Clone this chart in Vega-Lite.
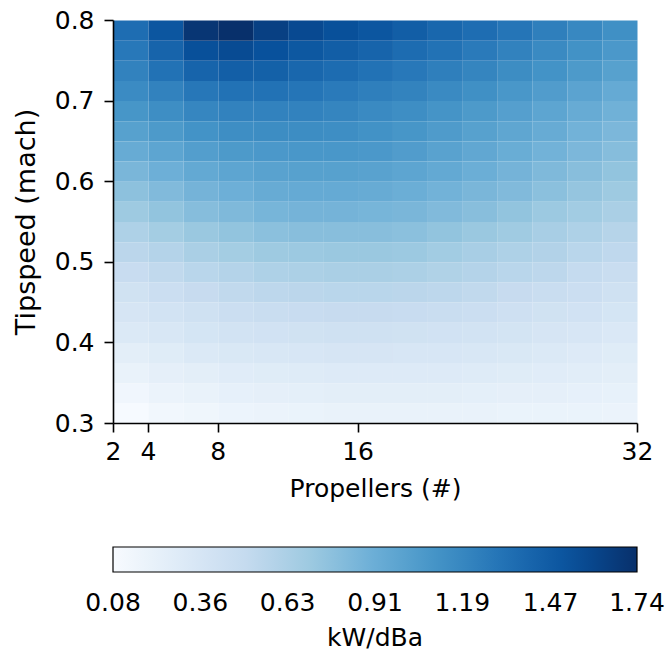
{
  "$schema": "https://vega.github.io/schema/vega-lite/v6.json",
  "width": 524,
  "height": 403,
  "autosize": {"type": "none"},
  "padding": {"left": 113, "top": 20, "right": 31, "bottom": 229},
  "background": "white",
  "config": {
    "view": {"stroke": null},
    "font": "DejaVu Sans",
    "axis": {
      "grid": false,
      "domainColor": "black",
      "domainWidth": 1.6,
      "tickColor": "black",
      "tickWidth": 1.6,
      "tickSize": 9,
      "labelColor": "black",
      "titleColor": "black",
      "labelFontSize": 25,
      "titleFontSize": 25,
      "titleFontWeight": "normal",
      "labelFlush": false
    }
  },
  "data": {"values": [
    {"p":2,"t":0.3,"v":0.09},{"p":4,"t":0.3,"v":0.13},{"p":6,"t":0.3,"v":0.15},{"p":8,"t":0.3,"v":0.17},{"p":10,"t":0.3,"v":0.18},{"p":12,"t":0.3,"v":0.19},{"p":14,"t":0.3,"v":0.20},{"p":16,"t":0.3,"v":0.20},{"p":18,"t":0.3,"v":0.20},{"p":20,"t":0.3,"v":0.20},{"p":22,"t":0.3,"v":0.20},{"p":24,"t":0.3,"v":0.19},{"p":26,"t":0.3,"v":0.19},{"p":28,"t":0.3,"v":0.19},{"p":30,"t":0.3,"v":0.18},
    {"p":2,"t":0.325,"v":0.14},{"p":4,"t":0.325,"v":0.18},{"p":6,"t":0.325,"v":0.20},{"p":8,"t":0.325,"v":0.22},{"p":10,"t":0.325,"v":0.23},{"p":12,"t":0.325,"v":0.24},{"p":14,"t":0.325,"v":0.25},{"p":16,"t":0.325,"v":0.25},{"p":18,"t":0.325,"v":0.25},{"p":20,"t":0.325,"v":0.25},{"p":22,"t":0.325,"v":0.24},{"p":24,"t":0.325,"v":0.23},{"p":26,"t":0.325,"v":0.23},{"p":28,"t":0.325,"v":0.22},{"p":30,"t":0.325,"v":0.21},
    {"p":2,"t":0.35,"v":0.20},{"p":4,"t":0.35,"v":0.23},{"p":6,"t":0.35,"v":0.25},{"p":8,"t":0.35,"v":0.27},{"p":10,"t":0.35,"v":0.28},{"p":12,"t":0.35,"v":0.29},{"p":14,"t":0.35,"v":0.30},{"p":16,"t":0.35,"v":0.30},{"p":18,"t":0.35,"v":0.30},{"p":20,"t":0.35,"v":0.30},{"p":22,"t":0.35,"v":0.29},{"p":24,"t":0.35,"v":0.28},{"p":26,"t":0.35,"v":0.27},{"p":28,"t":0.35,"v":0.26},{"p":30,"t":0.35,"v":0.25},
    {"p":2,"t":0.375,"v":0.25},{"p":4,"t":0.375,"v":0.28},{"p":6,"t":0.375,"v":0.31},{"p":8,"t":0.375,"v":0.33},{"p":10,"t":0.375,"v":0.34},{"p":12,"t":0.375,"v":0.35},{"p":14,"t":0.375,"v":0.36},{"p":16,"t":0.375,"v":0.36},{"p":18,"t":0.375,"v":0.35},{"p":20,"t":0.375,"v":0.35},{"p":22,"t":0.375,"v":0.34},{"p":24,"t":0.375,"v":0.33},{"p":26,"t":0.375,"v":0.31},{"p":28,"t":0.375,"v":0.30},{"p":30,"t":0.375,"v":0.28},
    {"p":2,"t":0.4,"v":0.31},{"p":4,"t":0.4,"v":0.34},{"p":6,"t":0.4,"v":0.37},{"p":8,"t":0.4,"v":0.39},{"p":10,"t":0.4,"v":0.40},{"p":12,"t":0.4,"v":0.41},{"p":14,"t":0.4,"v":0.42},{"p":16,"t":0.4,"v":0.42},{"p":18,"t":0.4,"v":0.41},{"p":20,"t":0.4,"v":0.40},{"p":22,"t":0.4,"v":0.39},{"p":24,"t":0.4,"v":0.38},{"p":26,"t":0.4,"v":0.36},{"p":28,"t":0.4,"v":0.35},{"p":30,"t":0.4,"v":0.32},
    {"p":2,"t":0.425,"v":0.36},{"p":4,"t":0.425,"v":0.39},{"p":6,"t":0.425,"v":0.42},{"p":8,"t":0.425,"v":0.45},{"p":10,"t":0.425,"v":0.47},{"p":12,"t":0.425,"v":0.48},{"p":14,"t":0.425,"v":0.49},{"p":16,"t":0.425,"v":0.49},{"p":18,"t":0.425,"v":0.48},{"p":20,"t":0.425,"v":0.47},{"p":22,"t":0.425,"v":0.45},{"p":24,"t":0.425,"v":0.43},{"p":26,"t":0.425,"v":0.41},{"p":28,"t":0.425,"v":0.40},{"p":30,"t":0.425,"v":0.37},
    {"p":2,"t":0.45,"v":0.41},{"p":4,"t":0.45,"v":0.45},{"p":6,"t":0.45,"v":0.49},{"p":8,"t":0.45,"v":0.52},{"p":10,"t":0.45,"v":0.54},{"p":12,"t":0.45,"v":0.55},{"p":14,"t":0.45,"v":0.56},{"p":16,"t":0.45,"v":0.56},{"p":18,"t":0.45,"v":0.55},{"p":20,"t":0.45,"v":0.54},{"p":22,"t":0.45,"v":0.52},{"p":24,"t":0.45,"v":0.49},{"p":26,"t":0.45,"v":0.47},{"p":28,"t":0.45,"v":0.45},{"p":30,"t":0.45,"v":0.42},
    {"p":2,"t":0.475,"v":0.48},{"p":4,"t":0.475,"v":0.52},{"p":6,"t":0.475,"v":0.56},{"p":8,"t":0.475,"v":0.59},{"p":10,"t":0.475,"v":0.62},{"p":12,"t":0.475,"v":0.63},{"p":14,"t":0.475,"v":0.64},{"p":16,"t":0.475,"v":0.64},{"p":18,"t":0.475,"v":0.63},{"p":20,"t":0.475,"v":0.61},{"p":22,"t":0.475,"v":0.59},{"p":24,"t":0.475,"v":0.56},{"p":26,"t":0.475,"v":0.54},{"p":28,"t":0.475,"v":0.50},{"p":30,"t":0.475,"v":0.47},
    {"p":2,"t":0.5,"v":0.55},{"p":4,"t":0.5,"v":0.59},{"p":6,"t":0.5,"v":0.64},{"p":8,"t":0.5,"v":0.67},{"p":10,"t":0.5,"v":0.70},{"p":12,"t":0.5,"v":0.71},{"p":14,"t":0.5,"v":0.72},{"p":16,"t":0.5,"v":0.72},{"p":18,"t":0.5,"v":0.71},{"p":20,"t":0.5,"v":0.68},{"p":22,"t":0.5,"v":0.65},{"p":24,"t":0.5,"v":0.62},{"p":26,"t":0.5,"v":0.60},{"p":28,"t":0.5,"v":0.56},{"p":30,"t":0.5,"v":0.53},
    {"p":2,"t":0.525,"v":0.62},{"p":4,"t":0.525,"v":0.67},{"p":6,"t":0.525,"v":0.72},{"p":8,"t":0.525,"v":0.75},{"p":10,"t":0.525,"v":0.78},{"p":12,"t":0.525,"v":0.79},{"p":14,"t":0.525,"v":0.79},{"p":16,"t":0.525,"v":0.79},{"p":18,"t":0.525,"v":0.78},{"p":20,"t":0.525,"v":0.75},{"p":22,"t":0.525,"v":0.72},{"p":24,"t":0.525,"v":0.69},{"p":26,"t":0.525,"v":0.65},{"p":28,"t":0.525,"v":0.62},{"p":30,"t":0.525,"v":0.58},
    {"p":2,"t":0.55,"v":0.70},{"p":4,"t":0.55,"v":0.75},{"p":6,"t":0.55,"v":0.80},{"p":8,"t":0.55,"v":0.83},{"p":10,"t":0.55,"v":0.86},{"p":12,"t":0.55,"v":0.87},{"p":14,"t":0.55,"v":0.87},{"p":16,"t":0.55,"v":0.86},{"p":18,"t":0.55,"v":0.85},{"p":20,"t":0.55,"v":0.82},{"p":22,"t":0.55,"v":0.79},{"p":24,"t":0.55,"v":0.75},{"p":26,"t":0.55,"v":0.71},{"p":28,"t":0.55,"v":0.68},{"p":30,"t":0.55,"v":0.64},
    {"p":2,"t":0.575,"v":0.77},{"p":4,"t":0.575,"v":0.82},{"p":6,"t":0.575,"v":0.87},{"p":8,"t":0.575,"v":0.90},{"p":10,"t":0.575,"v":0.93},{"p":12,"t":0.575,"v":0.94},{"p":14,"t":0.575,"v":0.94},{"p":16,"t":0.575,"v":0.93},{"p":18,"t":0.575,"v":0.91},{"p":20,"t":0.575,"v":0.88},{"p":22,"t":0.575,"v":0.85},{"p":24,"t":0.575,"v":0.82},{"p":26,"t":0.575,"v":0.78},{"p":28,"t":0.575,"v":0.74},{"p":30,"t":0.575,"v":0.70},
    {"p":2,"t":0.6,"v":0.85},{"p":4,"t":0.6,"v":0.90},{"p":6,"t":0.6,"v":0.95},{"p":8,"t":0.6,"v":0.98},{"p":10,"t":0.6,"v":1.00},{"p":12,"t":0.6,"v":1.01},{"p":14,"t":0.6,"v":1.01},{"p":16,"t":0.6,"v":1.00},{"p":18,"t":0.6,"v":0.98},{"p":20,"t":0.6,"v":0.95},{"p":22,"t":0.6,"v":0.91},{"p":24,"t":0.6,"v":0.87},{"p":26,"t":0.6,"v":0.83},{"p":28,"t":0.6,"v":0.79},{"p":30,"t":0.6,"v":0.75},
    {"p":2,"t":0.625,"v":0.93},{"p":4,"t":0.625,"v":0.98},{"p":6,"t":0.625,"v":1.03},{"p":8,"t":0.625,"v":1.06},{"p":10,"t":0.625,"v":1.07},{"p":12,"t":0.625,"v":1.08},{"p":14,"t":0.625,"v":1.08},{"p":16,"t":0.625,"v":1.07},{"p":18,"t":0.625,"v":1.04},{"p":20,"t":0.625,"v":1.00},{"p":22,"t":0.625,"v":0.96},{"p":24,"t":0.625,"v":0.92},{"p":26,"t":0.625,"v":0.88},{"p":28,"t":0.625,"v":0.84},{"p":30,"t":0.625,"v":0.80},
    {"p":2,"t":0.65,"v":1.01},{"p":4,"t":0.65,"v":1.06},{"p":6,"t":0.65,"v":1.11},{"p":8,"t":0.65,"v":1.14},{"p":10,"t":0.65,"v":1.15},{"p":12,"t":0.65,"v":1.15},{"p":14,"t":0.65,"v":1.14},{"p":16,"t":0.65,"v":1.12},{"p":18,"t":0.65,"v":1.09},{"p":20,"t":0.65,"v":1.05},{"p":22,"t":0.65,"v":1.01},{"p":24,"t":0.65,"v":0.97},{"p":26,"t":0.65,"v":0.93},{"p":28,"t":0.65,"v":0.88},{"p":30,"t":0.65,"v":0.84},
    {"p":2,"t":0.675,"v":1.09},{"p":4,"t":0.675,"v":1.14},{"p":6,"t":0.675,"v":1.19},{"p":8,"t":0.675,"v":1.22},{"p":10,"t":0.675,"v":1.22},{"p":12,"t":0.675,"v":1.22},{"p":14,"t":0.675,"v":1.20},{"p":16,"t":0.675,"v":1.17},{"p":18,"t":0.675,"v":1.14},{"p":20,"t":0.675,"v":1.10},{"p":22,"t":0.675,"v":1.06},{"p":24,"t":0.675,"v":1.02},{"p":26,"t":0.675,"v":0.98},{"p":28,"t":0.675,"v":0.93},{"p":30,"t":0.675,"v":0.89},
    {"p":2,"t":0.7,"v":1.16},{"p":4,"t":0.7,"v":1.22},{"p":6,"t":0.7,"v":1.29},{"p":8,"t":0.7,"v":1.32},{"p":10,"t":0.7,"v":1.32},{"p":12,"t":0.7,"v":1.30},{"p":14,"t":0.7,"v":1.27},{"p":16,"t":0.7,"v":1.24},{"p":18,"t":0.7,"v":1.21},{"p":20,"t":0.7,"v":1.17},{"p":22,"t":0.7,"v":1.13},{"p":24,"t":0.7,"v":1.08},{"p":26,"t":0.7,"v":1.04},{"p":28,"t":0.7,"v":0.99},{"p":30,"t":0.7,"v":0.94},
    {"p":2,"t":0.725,"v":1.22},{"p":4,"t":0.725,"v":1.32},{"p":6,"t":0.725,"v":1.41},{"p":8,"t":0.725,"v":1.44},{"p":10,"t":0.725,"v":1.43},{"p":12,"t":0.725,"v":1.39},{"p":14,"t":0.725,"v":1.36},{"p":16,"t":0.725,"v":1.32},{"p":18,"t":0.725,"v":1.28},{"p":20,"t":0.725,"v":1.24},{"p":22,"t":0.725,"v":1.20},{"p":24,"t":0.725,"v":1.15},{"p":26,"t":0.725,"v":1.11},{"p":28,"t":0.725,"v":1.06},{"p":30,"t":0.725,"v":1.01},
    {"p":2,"t":0.75,"v":1.28},{"p":4,"t":0.75,"v":1.41},{"p":6,"t":0.75,"v":1.54},{"p":8,"t":0.75,"v":1.57},{"p":10,"t":0.75,"v":1.53},{"p":12,"t":0.75,"v":1.49},{"p":14,"t":0.75,"v":1.45},{"p":16,"t":0.75,"v":1.41},{"p":18,"t":0.75,"v":1.36},{"p":20,"t":0.75,"v":1.32},{"p":22,"t":0.75,"v":1.27},{"p":24,"t":0.75,"v":1.22},{"p":26,"t":0.75,"v":1.17},{"p":28,"t":0.75,"v":1.12},{"p":30,"t":0.75,"v":1.07},
    {"p":2,"t":0.775,"v":1.35},{"p":4,"t":0.775,"v":1.50},{"p":6,"t":0.775,"v":1.70},{"p":8,"t":0.775,"v":1.74},{"p":10,"t":0.775,"v":1.64},{"p":12,"t":0.775,"v":1.58},{"p":14,"t":0.775,"v":1.54},{"p":16,"t":0.775,"v":1.50},{"p":18,"t":0.775,"v":1.45},{"p":20,"t":0.775,"v":1.39},{"p":22,"t":0.775,"v":1.35},{"p":24,"t":0.775,"v":1.30},{"p":26,"t":0.775,"v":1.24},{"p":28,"t":0.775,"v":1.18},{"p":30,"t":0.775,"v":1.13}
  ]},
  "mark": {"type": "rect", "binSpacing": 0},
  "encoding": {
    "x": {
      "field": "p",
      "type": "quantitative",
      "bin": {"binned": true, "step": 2},
      "scale": {"domain": [2, 32], "nice": false, "zero": false},
      "axis": {"values": [2, 4, 8, 16, 32], "format": "d", "title": "Propellers (#)", "labelPadding": 7, "titlePadding": 12}
    },
    "y": {
      "field": "t",
      "type": "quantitative",
      "bin": {"binned": true, "step": 0.025},
      "scale": {"domain": [0.3, 0.8], "nice": false, "zero": false},
      "axis": {"values": [0.3, 0.4, 0.5, 0.6, 0.7, 0.8], "format": ".1f", "title": "Tipspeed (mach)", "titleFontSize": 27, "labelPadding": 10, "titlePadding": 14}
    },
    "color": {
      "field": "v",
      "type": "quantitative",
      "scale": {
        "domain": [0.08, 0.2875, 0.495, 0.7025, 0.91, 1.1175, 1.325, 1.5325, 1.74],
        "range": ["#f7fbff", "#deebf7", "#c6dbef", "#9ecae1", "#6baed6", "#4292c6", "#2171b5", "#08519c", "#08306b"],
        "interpolate": "rgb"
      },
      "legend": {
        "type": "gradient",
        "orient": "none",
        "legendX": 0,
        "legendY": 527,
        "direction": "horizontal",
        "gradientLength": 524,
        "gradientThickness": 25,
        "gradientStrokeColor": "black",
        "gradientStrokeWidth": 1.2,
        "values": [0.08, 0.3567, 0.6333, 0.91, 1.1867, 1.466, 1.74],
        "format": ".2f",
        "labelFontSize": 25,
        "labelColor": "black",
        "labelOffset": 19,
        "labelOverlap": false,
        "labelLimit": 300,
        "title": "kW/dBa",
        "titleOrient": "bottom",
        "titleAnchor": "middle",
        "titleFontSize": 25,
        "titleFontWeight": "normal",
        "titleColor": "black",
        "titlePadding": 10,
        "padding": 0,
        "encode": {"labels": {"update": {"align": {"value": "center"}}}}
      }
    }
  }
}
